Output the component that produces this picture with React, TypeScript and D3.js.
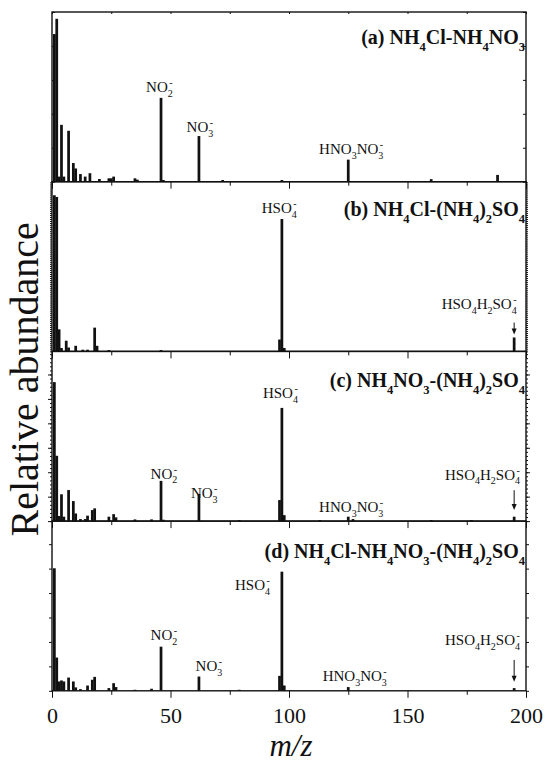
import React, { useEffect, useRef } from 'react';
import * as d3 from 'd3';

// m/z ticks
const xMajor = [0, 50, 100, 150, 200];
const xMinor = [25, 75, 125, 175];

// [m/z, relative abundance] per panel (0-100 = full panel height)
const peaksA = [[1, 87], [2, 96], [3, 3], [4, 33.5], [5, 3], [7, 30], [9, 11], [10, 7.8], [12, 4.5], [14, 3], [16, 5], [20, 1.6], [24, 2], [25, 2], [26, 3], [35, 2], [36, 1.2], [46, 49.4], [47, 1], [62, 26.9], [72, 1], [97, 1], [125, 13], [160, 1.5], [188, 4]];
const peaksB = [[1, 92], [2, 91], [3, 13], [4, 2], [6, 6.3], [7, 2.3], [10, 3.3], [13, 1], [15, 1], [18, 14], [19, 3.3], [24, 0.8], [46, 0.8], [96, 7], [97, 78], [98, 2], [195, 8.2]];
const peaksC = [[1, 81.9], [2, 38.5], [3, 3], [4, 15.8], [5, 2.6], [7, 18.3], [9, 11.8], [10, 4.5], [12, 1.2], [14, 1.2], [15, 3.2], [17, 6.5], [18, 7.5], [24, 2.6], [26, 4.1], [27, 2.2], [35, 1], [42, 1], [46, 23.7], [47, 0.8], [62, 16], [79, 0.6], [96, 12.4], [97, 66.7], [98, 3.5], [113, 0.6], [125, 2.6], [127, 1.2], [160, 0.6], [177, 0.6], [195, 2.6]];
const peaksD = [[1, 72.2], [2, 19.6], [3, 5.5], [4, 6.1], [5, 5.5], [7, 7.8], [9, 5.5], [10, 2], [12, 1], [15, 3.1], [17, 6.5], [18, 8.2], [24, 1.6], [26, 4.5], [27, 2.2], [35, 0.6], [42, 1.2], [46, 26], [62, 8.4], [79, 0.6], [96, 8.8], [97, 70.2], [98, 3.1], [125, 2.2], [195, 1.6]];

const titles = [
    '(a) NH_4Cl-NH_4NO_3',
    '(b) NH_4Cl-(NH_4)_2SO_4',
    '(c) NH_4NO_3-(NH_4)_2SO_4',
    '(d) NH_4Cl-NH_4NO_3-(NH_4)_2SO_4',
];

// peak labels: text, start m/z, baseline level
const labelsA = [
    { text: 'NO_2^-', mz: 39.7, level: 53 },
    { text: 'NO_3^-', mz: 56.8, level: 29.2 },
    { text: 'HNO_3NO_3^-', mz: 112.7, level: 16.5 },
];
const labelsB = [
    { text: 'HSO_4^-', mz: 88.5, level: 81.6 },
    { text: 'HSO_4H_2SO_4^-', mz: 164.4, level: 25.1 },
];
const labelsC = [
    { text: 'HSO_4^-', mz: 89, level: 72.8 },
    { text: 'NO_2^-', mz: 41.6, level: 25.1 },
    { text: 'NO_3^-', mz: 58.6, level: 13.4 },
    { text: 'HNO_3NO_3^-', mz: 112.7, level: 5.5 },
    { text: 'HSO_4H_2SO_4^-', mz: 165.8, level: 24.5 },
];
const labelsD = [
    { text: 'HSO_4^-', mz: 77.2, level: 59.4 },
    { text: 'NO_2^-', mz: 41.6, level: 30 },
    { text: 'NO_3^-', mz: 60.6, level: 11.4 },
    { text: 'HNO_3NO_3^-', mz: 114.2, level: 5.5 },
    { text: 'HSO_4H_2SO_4^-', mz: 165.8, level: 27 },
];

// arrows pointing at the HSO4H2SO4- peak (m/z, from level, to level)
const arrows = [null, [195, 17, 10], [195, 18.2, 6.5], [195, 18.2, 5.3]];

const titleLevels = [81, 79.6, 79, 78];

const panels = [
    { peaks: peaksA, labels: labelsA, ticks: { step: 20, size: -3 } },
    { peaks: peaksB, labels: labelsB, ticks: { step: 1.2, size: 2 } },
    { peaks: peaksC, labels: labelsC, ticks: { step: 2.4, size: 2, major: 14.4 } },
    { peaks: peaksD, labels: labelsD, ticks: { step: 14.4, size: 3 } },
];

const FONT = '"Liberation Serif", "Times New Roman", serif';

// builds tspans from "NO_2^-" style markup
const richText = (sel, str, size, subSize) => {
    let offset = 0;
    let prevSub = false;
    for (let i = 0; i < str.length; i++) {
        let ch = str[i], kind = 'n';
        if ((ch === '_' || ch === '^') && i + 1 < str.length) {
            kind = ch === '_' ? 'sub' : 'sup';
            ch = str[++i];
        }
        const target = kind === 'sub' ? size * 0.33 : kind === 'sup' ? -size * 0.4 : 0;
        const t = sel.append('tspan')
            .attr('dy', target - offset)
            .attr('font-size', kind === 'n' ? size : subSize)
            .text(ch);
        if (kind === 'sup' && prevSub) t.attr('dx', -subSize * 0.35);
        offset = target;
        prevSub = kind === 'sub';
    }
};

export default function App() {
    const ref = useRef(null);

    useEffect(() => {
        const svg = d3.select(ref.current);
        svg.selectAll('*').remove();

        const width = 546, height = 762;
        const left = 52, right = 526, top = 12, panelH = 169.7;

        const x = d3.scaleLinear().domain([0, 200]).range([left, right]);
        const bw = (x(1) - x(0)) * 1.15;

        panels.forEach((p, i) => {
            const y0 = top + i * panelH;
            const y = d3.scaleLinear().domain([0, 100]).range([y0 + panelH, y0]);
            const g = svg.append('g');

            // bars
            g.append('g')
                .selectAll('rect')
                .data(p.peaks)
                .enter().append('rect')
                .attr('x', d => x(d[0]) - bw / 2)
                .attr('width', bw)
                .attr('y', d => y(d[1]))
                .attr('height', d => y(0) - y(d[1]))
                .attr('fill', '#111');

            // y ticks, no labels
            const yt = d3.range(0, 100.01, p.ticks.step);
            g.append('g')
                .attr('transform', `translate(${right},0)`)
                .call(d3.axisRight(y).tickValues(yt).tickSize(p.ticks.size).tickFormat(() => ''));
            g.append('g')
                .attr('transform', `translate(${left},0)`)
                .call(d3.axisLeft(y).tickValues(yt).tickSize(p.ticks.size).tickFormat(() => ''));
            if (p.ticks.major) {
                const ym = d3.range(0, 100.01, p.ticks.major);
                g.append('g').attr('transform', `translate(${right},0)`)
                    .call(d3.axisRight(y).tickValues(ym).tickSize(4).tickFormat(() => ''));
                g.append('g').attr('transform', `translate(${left},0)`)
                    .call(d3.axisLeft(y).tickValues(ym).tickSize(4).tickFormat(() => ''));
            }

            // x ticks at the bottom of each panel
            const last = i === panels.length - 1;
            const xAxis = g.append('g')
                .attr('transform', `translate(0,${y(0)})`)
                .call(d3.axisBottom(x).tickValues(xMajor).tickSize(7).tickSizeOuter(0)
                    .tickFormat(d => (last ? d : '')));
            xAxis.selectAll('text')
                .attr('font-family', FONT)
                .attr('font-size', 22)
                .attr('fill', '#111')
                .attr('dy', 0)
                .attr('y', 723 - y(0));
            g.append('g')
                .attr('transform', `translate(0,${y(0)})`)
                .call(d3.axisBottom(x).tickValues(xMinor).tickSize(4).tickSizeOuter(0).tickFormat(() => ''));
            if (i === 0) {
                g.append('g')
                    .attr('transform', `translate(0,${y0})`)
                    .call(d3.axisBottom(x).tickValues(xMajor.concat(xMinor)).tickSize(2).tickSizeOuter(0).tickFormat(() => ''));
            }

            g.selectAll('.domain').remove();
            g.selectAll('.tick line').attr('stroke', '#111').attr('stroke-width', 1);

            // frame
            g.append('rect')
                .attr('x', left).attr('y', y0)
                .attr('width', right - left).attr('height', panelH)
                .attr('fill', 'none').attr('stroke', '#111').attr('stroke-width', 1.4);

            // title
            const tt = g.append('text')
                .attr('x', right - 1)
                .attr('y', y(titleLevels[i]))
                .attr('text-anchor', 'end')
                .attr('font-family', FONT)
                .attr('font-weight', 'bold')
                .attr('fill', '#111');
            richText(tt, titles[i], 20, 12.5);

            // peak labels
            p.labels.forEach(l => {
                const t = g.append('text')
                    .attr('x', x(l.mz))
                    .attr('y', y(l.level))
                    .attr('font-family', FONT)
                    .attr('fill', '#111');
                richText(t, l.text, 15, 10);
            });

            // arrow
            const a = arrows[i];
            if (a) {
                const ax = x(a[0]);
                g.append('line')
                    .attr('x1', ax).attr('x2', ax)
                    .attr('y1', y(a[1])).attr('y2', y(a[2]) - 4)
                    .attr('stroke', '#111').attr('stroke-width', 1);
                g.append('path')
                    .attr('d', `M${ax - 2.5},${y(a[2]) - 6}L${ax + 2.5},${y(a[2]) - 6}L${ax},${y(a[2])}Z`)
                    .attr('fill', '#111');
            }
        });

        // axis titles
        svg.append('text')
            .attr('x', (left + right) / 2 + 2)
            .attr('y', 756)
            .attr('text-anchor', 'middle')
            .attr('font-family', FONT)
            .attr('font-style', 'italic')
            .attr('font-size', 31)
            .attr('fill', '#111')
            .text('m/z');

        svg.append('text')
            .attr('transform', `translate(38,${top + 2 * panelH + 28}) rotate(-90)`)
            .attr('text-anchor', 'middle')
            .attr('font-family', FONT)
            .attr('font-size', 40)
            .attr('fill', '#111')
            .text('Relative abundance');

        svg.attr('width', width).attr('height', height);
    }, []);

    return (
        <svg ref={ref} width={546} height={762}
            style={{ position: 'absolute', left: 0, top: 0, background: '#fff' }} />
    );
}
